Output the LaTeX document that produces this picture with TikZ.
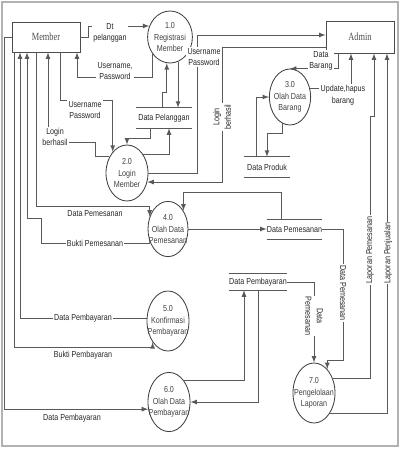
\documentclass[tikz,border=0pt]{standalone}
\usepackage{fontspec}
\setmainfont{Liberation Sans}[FakeStretch=0.82]
\newfontfamily\entfamily{Liberation Serif}[FakeStretch=0.76]
\usetikzlibrary{shapes.geometric}
\newcommand\dfdfont{\fontsize{6.2}{8.2}\selectfont}
\begin{document}
\begin{tikzpicture}[x=0.025cm,y=-0.025cm,every node/.style={inner sep=1pt,font=\dfdfont,text=black!85}]
\tikzstyle{arrow}=[draw,-latex,black!65,line width=0.6pt]
\tikzstyle{flow}=[draw,black!65,line width=0.6pt]
\tikzstyle{ent}=[draw,black!70,line width=0.6pt,font=\entfamily\fontsize{7.8}{9}\selectfont,minimum width=1.7cm,minimum height=0.75cm]
\tikzstyle{proc}=[draw,ellipse,black!75,line width=0.6pt,align=center,inner xsep=-8pt,inner ysep=0pt]
\tikzstyle{store}=[minimum height=0.5cm,inner sep=0pt]
\tikzstyle{lbl}=[fill=white,align=center]
\useasboundingbox (0,0) rectangle (400,450);
\draw[black!30,line width=1.2pt] (2,2) rectangle (398,446);

\node[ent](member) at (46,37){Member};
\node[ent,minimum height=0.8cm](admin) at (360,37){Admin};

\node[proc,minimum width=1.12cm,minimum height=1.3cm](p1) at (170,37){1.0\\Registrasi\\Member};
\node[proc,minimum width=1.05cm,minimum height=1.4cm](p2) at (127,173){2.0\\Login\\Member};
\node[proc,minimum width=1.03cm,minimum height=1.4cm](p3) at (290,97){3.0\\Olah Data\\Barang};
\node[proc,minimum width=1.0cm,minimum height=1.38cm](p4) at (168,229){4.0\\Olah Data\\Pemesanan};
\node[proc,minimum width=1.05cm,minimum height=1.5cm](p5) at (168,321){5.0\\Konfirmasi\\Pembayaran};
\node[proc,minimum width=1.05cm,minimum height=1.48cm](p6) at (169,402){6.0\\Olah Data\\Pembayaran};
\node[proc,minimum width=1.05cm,minimum height=1.5cm](p7) at (314,393){7.0\\Pengelolaan\\Laporan};

\node[store,minimum width=1.4cm](dpel) at (164,118){Data Pelanggan};
\node[store,minimum width=1.15cm](dprod) at (267,167){Data Produk};
\node[store,minimum width=1.375cm,minimum height=0.475cm](dpem) at (294.5,229.5){Data Pemesanan};
\node[store,minimum width=1.45cm,minimum height=0.4cm](dbay) at (258,282){Data Pembayaran};
\foreach \s in {dpel,dprod,dpem,dbay}
  \path[flow](\s.north west)--(\s.north east) (\s.south west)--(\s.south east);

\path[arrow](member.east)--(88,37)|-(p1.152);
\path[arrow](p1.225)|-(77,77)--(member.south -| 77,0);
\path[arrow](member.south -| 60,0)--(60,100)-|(p2.124);
\path[arrow](p2.137)-|(95,142)-|(member.south -| 48,0);
\path[arrow](p1.288)--(p1.288 |- dpel.north);
\path[arrow](dpel.north -| 162,0)--(162,92)-|(p1.263);
\path[arrow](dpel.south -| 150,0)--(150,138)-|(p2.north);
\path[arrow](p2.50)-|(dpel.south -| 169,0);
\path[arrow](p2.east)-|(197,35)--(admin.west |- 0,35);
\path[arrow](admin.west |- 0,47)--(222,47)|-(p2.-24);
\path[arrow](admin.south -| 338,0)|-(p3.north);
\path[arrow](p3.22)-|(admin.south -| 351,0);
\path[arrow](dprod.north -| 256,0)|-(p3.west);
\path[arrow](p3.253)|-(267,133)--(dprod.north -| 267,0);

\path[arrow](member.south -| 36,0)--(36,206)-|(p4.146);
\path[arrow](p4.219)-|(41,218)-|(member.south -| 27,0);
\path[arrow](p4.east)--(p4.east -| dpem.west);
\path[arrow](dpem.north -| 281,0)--(281,192)-|(p4.50);
\path[arrow](member.west)--(4,37)|-(p6.199);
\path[arrow](member.south -| 14,0)--(14,347)-|(p5.234);
\path[arrow](p5.172)-|(member.south -| 20,0);
\path[arrow](p6.55)-|(dbay.south -| 244,0);
\path[arrow](dbay.south -| 258,0)|-(p6.east);
\path[arrow](dpem.east)-|(343,360)-|(p7.61);
\path[arrow](dbay.east)-|(p7.north);
\path[arrow](p7.37)-|(370,116)-|(admin.south -| 374,0);
\path[arrow](p7.-52)-|(admin.south -| 387,0);

\node[lbl](ldt) at (110,33){Dt\\pelanggan};
\node[lbl](lup1) at (115,71){Username,\\Password};
\node[lbl](lup2) at (85,110){Username\\Password};
\node[lbl](llog1) at (55,137){Login\\berhasil};
\node[lbl](lup3) at (204,57){Username\\Password};
\node[lbl,rotate=90](llog2) at (222,117){Login\\berhasil};
\node[lbl](lbar) at (321,61){Data\\Barang};
\node[lbl](lupd) at (343,95){Update,hapus\\barang};
\node(lpem1) at (95,214){Data Pemesanan};
\node[lbl](lbpem) at (95,243){Bukti Pemesanan};
\node[lbl](lbay1) at (83,318){Data Pembayaran};
\node(lbbay) at (83,355){Bukti Pembayaran};
\node(lbay2) at (72,418){Data Pembayaran};
\node[lbl,rotate=-90](lpem2) at (343,293){Data Pemesanan};
\node[lbl,rotate=-90](lpem3) at (314,316){Data\\Pemesanan};
\node[lbl,rotate=90](llpem) at (370,250){Laporan Pemesanan};
\node[lbl,rotate=90](llpen) at (388,253){Laporan Penjualan};
\end{tikzpicture}
\end{document}
